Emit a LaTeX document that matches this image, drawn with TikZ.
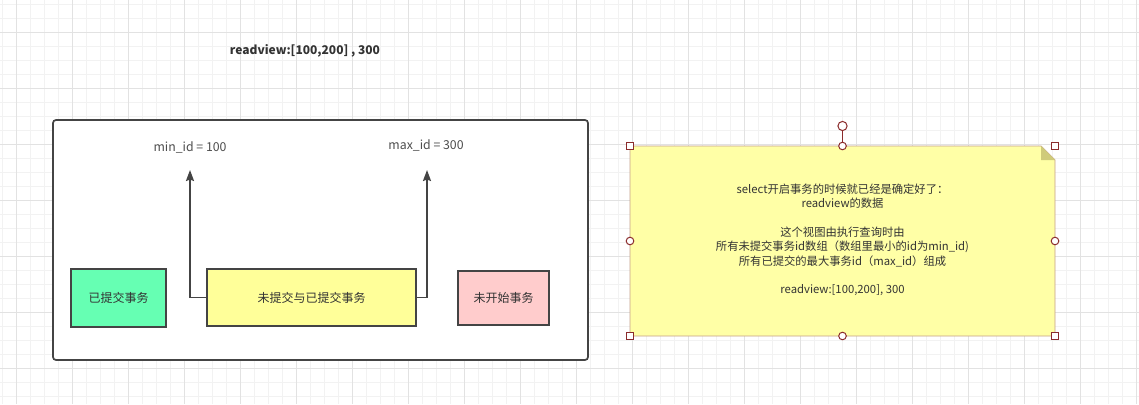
\documentclass[tikz,border=0pt]{standalone}
\usepackage{fontspec}
\setmainfont{Noto Sans CJK SC}
\usetikzlibrary{arrows.meta}
\definecolor{gridminor}{HTML}{F2F2F2}
\definecolor{gridmajor}{HTML}{E2E2E2}
\definecolor{boxline}{HTML}{444444}
\definecolor{txt}{HTML}{333333}
\definecolor{lbl}{HTML}{4D4D4D}
\definecolor{greenfill}{HTML}{66FFB3}
\definecolor{yellowfill}{HTML}{FFFF99}
\definecolor{pinkfill}{HTML}{FFCCCC}
\definecolor{notefill}{HTML}{FFFFA6}
\definecolor{noteline}{HTML}{C4A08A}
\definecolor{notefold}{HTML}{CFCB7A}
\definecolor{handle}{HTML}{8B2C2C}
\begin{document}
\begin{tikzpicture}[x=1pt,y=-1pt,
  minorgrid/.style={draw=gridminor,line width=1pt},
  majorgrid/.style={draw=gridmajor,line width=1pt},
  txbox/.style={draw=boxline,line width=1.7pt,minimum width=#1,inner sep=0pt,
    font=\fontsize{12}{14}\selectfont,text=txt},
  conn/.style={draw=boxline,line width=1.8pt,-{Stealth[length=11pt,width=8pt,inset=1.5pt]}},
  lbltext/.style={font=\fontsize{12.3}{14}\selectfont,text=lbl,inner sep=0pt},
  handlesq/.style={draw=handle,fill=white,line width=1pt},
  handlecirc/.style={draw=handle,fill=white,line width=1pt}]
\useasboundingbox (0,0) rectangle (1139,404);
\fill[white] (0,0) rectangle (1139,404);
% grid
\foreach \x in {2.5,16.5,...,1139} \draw[minorgrid] (\x,0) -- (\x,404);
\foreach \y in {4.5,18.5,...,404} \draw[minorgrid] (0,\y) -- (1139,\y);
\foreach \x in {16.5,72.5,...,1139} \draw[majorgrid] (\x,0) -- (\x,404);
\foreach \y in {32.5,88.5,...,404} \draw[majorgrid] (0,\y) -- (1139,\y);
% title
\node[font=\fontsize{12}{14}\selectfont\bfseries,text=txt] (title) at (305,51) {readview:[100,200] , 300};
% container
\node[draw=boxline,line width=1.7pt,fill=white,rounded corners=3pt,minimum width=535pt,minimum height=240pt,inner sep=0pt] (frame) at (320.5,240) {};
% boxes
\node[txbox=95pt,fill=greenfill,minimum height=58pt] (committed) at (118.5,298) {已提交事务};
\node[txbox=209pt,fill=yellowfill,minimum height=57pt] (mixed) at (311.5,297.5) {未提交与已提交事务};
\node[txbox=91pt,fill=pinkfill,minimum height=54pt] (notstarted) at (503.5,298) {未开始事务};
% labels
\node[lbltext] (minid) at (190,147) {min\_id = 100};
\node[lbltext] (maxid) at (426,145) {max\_id = 300};
% arrows
\coordinate (tipmin) at (190,170);
\coordinate (tipmax) at (427,170);
\draw[conn] (mixed.west) -| (tipmin);
\draw[conn] (mixed.east) -| (tipmax);
% note
\fill[notefill,draw=noteline,line width=0.8pt] (630,146) -- (1041,146) -- (1055,160) -- (1055,336) -- (630,336) -- cycle;
\fill[notefold] (1041,146) -- (1041,160) -- (1055,160) -- cycle;
\node[align=center,font=\fontsize{11.3}{14.3}\selectfont,text=txt] (notetext) at (842.5,240) {select开启事务的时候就已经是确定好了：\\readview的数据\\[14.3pt]这个视图由执行查询时由\\所有未提交事务id数组（数组里最小的id为min\_id)\\所有已提交的最大事务id（max\_id）组成\\[14.3pt]readview:[100,200], 300};
% selection handles
\draw[handle,line width=1pt] (842.5,130.5) -- (842.5,142.5);
\draw[handlecirc] (842.5,126) circle (4.6pt);
\foreach \p in {(630,146),(1055,146),(630,336),(1055,336)}
  \draw[handlesq] \p ++(-3.5,-3.5) rectangle ++(7,7);
\foreach \p in {(842.5,146),(842.5,336),(630,241),(1055,241)}
  \draw[handlecirc] \p circle (3.8pt);
\end{tikzpicture}
\end{document}
